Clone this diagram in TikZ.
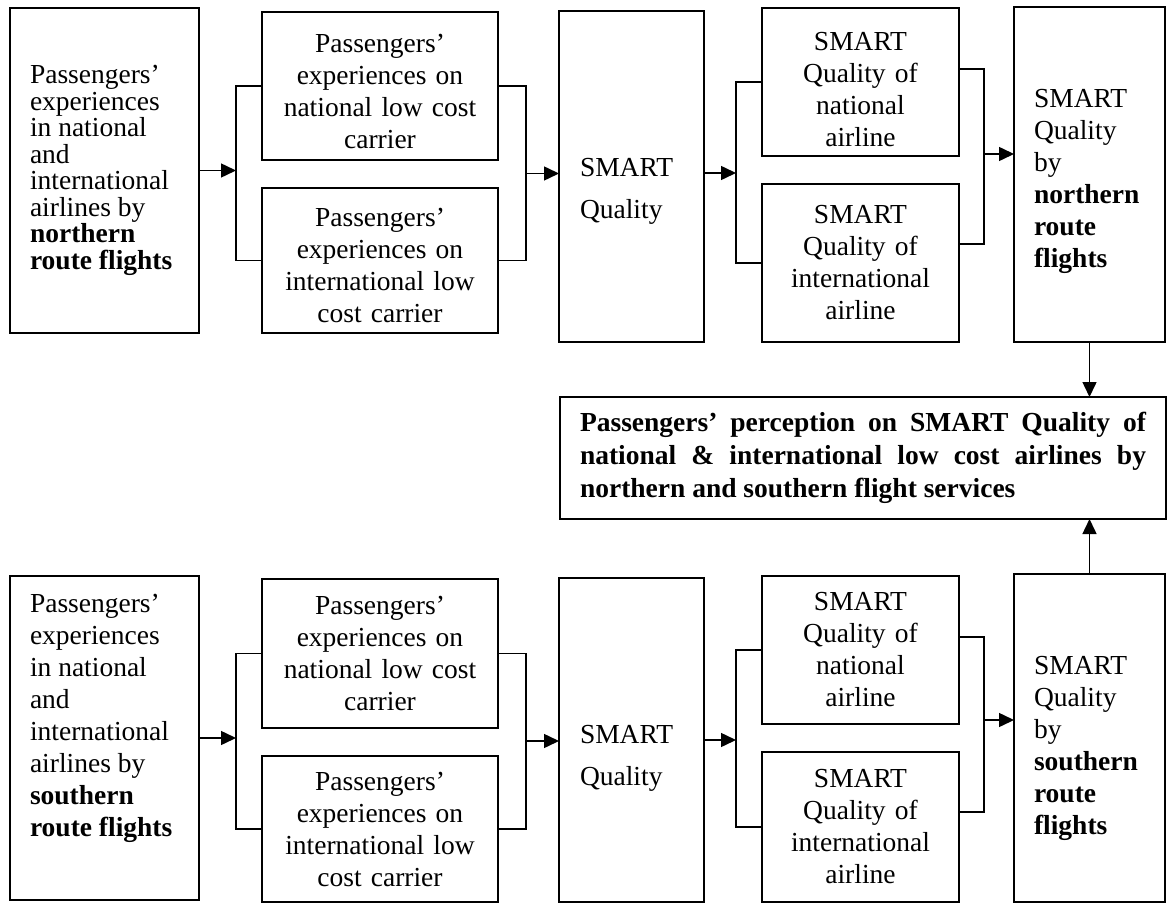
\documentclass[tikz,border=0pt]{standalone}
\usepackage{fontspec}
\setmainfont{Liberation Serif}
\usetikzlibrary{arrows.meta,calc}
\begin{document}
\begin{tikzpicture}[x=1pt,y=-1pt,
  box/.style={draw,line width=1.3pt,inner ysep=2pt,outer sep=0pt},
  lbox/.style={box,align=flush left,inner xsep=20pt},
  cbox/.style={box,align=center,inner xsep=8pt},
  fs/.style={font=\fontsize{27.5}{32}\selectfont},
  ln/.style={line width=1.3pt},
  arr/.style={line width=1.5pt,-{Triangle[length=15pt,width=14pt]}}]
\useasboundingbox (0,0) rectangle (1167,904);
% ---------- top row ----------
\node[lbox,font=\fontsize{27.5}{26.5}\selectfont,text width=149pt,minimum height=325pt] (A) at (104.5,170.5)
  {Passengers’\\experiences\\in national\\and\\international\\airlines by\\\textbf{northern}\\\textbf{route flights}};
\node[cbox,fs,text width=220pt,minimum height=148pt] (B1) at (380,86)
  {\rule{0pt}{28.5pt}Passengers’\\experiences on\\national low cost\\carrier};
\node[cbox,fs,text width=220pt,minimum height=145pt] (B2) at (380,260.5)
  {\rule{0pt}{28.5pt}Passengers’\\experiences on\\international low\\cost carrier};
\node[lbox,font=\fontsize{27.5}{42}\selectfont,inner xsep=21pt,text width=103pt,minimum height=331pt] (C) at (631.5,176.5)
  {\rule{0pt}{48.5pt}SMART\\Quality};
\node[cbox,fs,text width=181pt,minimum height=148pt] (D1) at (860.5,82)
  {\rule{0pt}{32.5pt}SMART\\Quality of\\national\\airline};
\node[cbox,fs,text width=181pt,minimum height=158pt] (D2) at (860.5,263)
  {SMART\\Quality of\\international\\airline};
\node[lbox,fs,text width=111pt,minimum height=335pt] (E) at (1089.5,174.5)
  {\rule{0pt}{32.5pt}SMART\\Quality\\by\\\textbf{northern}\\\textbf{route}\\\textbf{flights}};
% ---------- result box ----------
\node[box,align=justify,inner xsep=20pt,text width=566pt,minimum height=122pt,
      font=\fontsize{27.5}{33}\selectfont\bfseries] (F) at (863,458)
  {Passengers’ perception on SMART Quality of\linebreak national \& international low cost airlines by\linebreak northern and southern flight services};
% ---------- bottom row ----------
\node[lbox,fs,text width=149pt,minimum height=324pt] (A2) at (104.5,738)
  {Passengers’\\experiences\\in national\\and\\international\\airlines by\\\textbf{southern}\\\textbf{route flights}\rule[-46pt]{0pt}{0pt}};
\node[cbox,fs,text width=220pt,minimum height=149pt] (B3) at (380,653.5)
  {Passengers’\\experiences on\\national low cost\\carrier};
\node[cbox,fs,text width=220pt,minimum height=146pt] (B4) at (380,829)
  {Passengers’\\experiences on\\international low\\cost carrier};
\node[lbox,font=\fontsize{27.5}{42}\selectfont,inner xsep=21pt,text width=103pt,minimum height=324pt] (C2) at (631.5,740)
  {\rule{0pt}{54.5pt}SMART\\Quality};
\node[cbox,fs,text width=181pt,minimum height=148pt] (D3) at (860.5,650)
  {SMART\\Quality of\\national\\airline};
\node[cbox,fs,text width=181pt,minimum height=150pt] (D4) at (860.5,827)
  {SMART\\Quality of\\international\\airline};
\node[lbox,fs,text width=111pt,minimum height=328pt] (E2) at (1089.5,738)
  {\rule{0pt}{38.5pt}SMART\\Quality\\by\\\textbf{southern}\\\textbf{route}\\\textbf{flights}};
% ---------- junction coordinates ----------
\coordinate (ja) at (236,170.5);
\coordinate (jb) at (526,173.5);
\coordinate (jd) at (736,173);
\coordinate (r1) at (984,69);
\coordinate (r2) at (984,244);
\coordinate (rj) at (984,154);
\coordinate (ja2) at (236,738);
\coordinate (jb2) at (526,741);
\coordinate (jd2) at (736,740);
\coordinate (s1) at (984,637);
\coordinate (s2) at (984,812);
\coordinate (sj) at (984,720);
% ---------- top connectors ----------
\draw[arr] (A.east) -- (ja);
\draw[ln] (B1.west) -| (ja) |- (B2.west);
\draw[ln] (B1.east) -| (jb) |- (B2.east);
\draw[arr] (jb) -- (jb -| C.west);
\draw[arr] (C.east |- jd) -- (jd);
\draw[ln] (D1.west) -| (jd) |- (D2.west);
\draw[ln] (D1.east |- r1) -- (r1) -- (r2) -- (D2.east |- r2);
\draw[arr] (rj) -- (rj -| E.west);
\draw[arr] (E.south) -- (E.south |- F.north);
% ---------- bottom connectors ----------
\draw[arr] (A2.east) -- (ja2);
\draw[ln] (B3.west) -| (ja2) |- (B4.west);
\draw[ln] (B3.east) -| (jb2) |- (B4.east);
\draw[arr] (jb2) -- (jb2 -| C2.west);
\draw[arr] (C2.east |- jd2) -- (jd2);
\draw[ln] (D3.west) -| (jd2) |- (D4.west);
\draw[ln] (D3.east |- s1) -- (s1) -- (s2) -- (D4.east |- s2);
\draw[arr] (sj) -- (sj -| E2.west);
\draw[arr] (E2.north) -- (E2.north |- F.south);
\end{tikzpicture}
\end{document}
